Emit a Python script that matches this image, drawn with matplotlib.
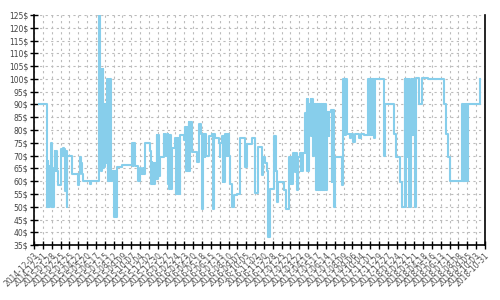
import numpy as np
import pandas as pd
import matplotlib
matplotlib.use('Agg')
import matplotlib.pyplot as plt

# Price history (step changes), days counted from the first tick date
start = '2014-12-03'
end = '2018-10-31'

days = [16, 40, 43, 45, 47, 49, 51, 53, 55, 58, 63, 66, 68, 70, 73, 76, 84, 87, 90, 92,
        96, 98, 101, 104, 106, 121, 139, 143, 147, 150, 153, 156, 178, 180,
        206, 210, 212, 214, 216, 218, 220, 222, 224, 226, 228, 230, 232, 234, 236, 238,
        240, 243, 248, 252, 256, 259, 262, 280, 306, 309, 312, 315, 319, 329, 337, 340,
        344, 349, 353,
        368, 371, 373, 375, 377, 380, 382, 385, 389, 391, 393, 396, 400, 411, 413, 415,
        417, 423, 425, 427, 429, 431, 433, 437, 448, 450, 453, 455, 458, 461, 463, 474,
        479, 481, 483, 486, 490, 492, 494, 500, 516, 521, 529, 532, 536, 541, 543, 545,
        553, 564, 566, 569, 574, 585, 588, 590, 595, 597, 599, 601, 606, 608, 610, 612,
        614, 616, 620, 627, 634, 643, 651, 669, 674, 691, 701, 708,
        721, 726, 731, 737, 742, 747, 760, 762, 764, 766, 768, 774, 791, 798, 808, 810,
        812, 814, 816, 818, 821, 826, 828, 832, 834, 837, 842, 844, 846, 848, 851, 858,
        860, 863, 865, 867, 869, 872, 876, 878, 880, 882, 885,
        890, 893, 896, 899, 902, 905, 908, 911, 914, 917, 920, 923,
        927, 929, 931, 933, 935, 939, 942, 945, 950, 954, 974, 979, 981, 983, 985, 987,
        990, 1000, 1003, 1009, 1016, 1030, 1034, 1045, 1058, 1060, 1062, 1064, 1066, 1068,
        1070, 1072, 1074, 1076,
        1079, 1107, 1110, 1112, 1140, 1147, 1160, 1166, 1174, 1176, 1178, 1180, 1182, 1184,
        1186, 1187, 1195, 1197, 1199, 1201, 1203, 1205, 1210, 1219, 1227, 1247, 1298, 1305,
        1311, 1316, 1356, 1358, 1360, 1362, 1364, 1366, 1368, 1370, 1374, 1411, 1413]

price = [90, 50, 68, 50, 66, 50, 65, 68, 75, 50, 65, 72, 64, 72, 64, 58.5, 70, 72.5, 70, 73,
         72.5, 56, 72, 50, 70, 63, 58.5, 63, 69.5, 67, 63, 60, 59, 60,
         125, 100, 64, 104, 66, 104, 65, 90, 66, 90, 67, 90, 100, 60, 100, 60,
         100, 60, 64, 46, 64, 46, 65.5, 66.5, 66.5, 75, 66, 75, 66, 60, 65, 63,
         65, 63, 75,
         72, 59, 67.5, 59, 67, 59, 67, 61, 78, 61, 78, 62, 69.5, 78.5, 70, 78.5,
         70, 78.5, 59, 78, 57, 78, 57, 73, 77, 55, 77, 55, 77, 55, 78, 76,
         81, 64, 81, 64, 83, 64, 83, 71.5, 67.5, 82.5, 78.5, 49, 78.5, 69.5, 78.5, 70,
         77.5, 78.5, 49, 78.5, 77, 75, 69.5, 75, 77.5, 59.5, 77.5, 59.5, 78.5, 70, 78.5, 70,
         78.5, 70, 59, 50, 54.5, 55, 77, 65.5, 74.5, 77, 55.5, 73.5,
         62.5, 69.5, 67, 64, 38, 57, 77.5, 64, 77.5, 64, 52, 59.5, 56.5, 49, 69.5, 59,
         69.5, 59, 69.5, 59, 71, 63.5, 71, 69.5, 56.5, 69.5, 71, 64, 71, 64, 71, 86.5,
         71, 92, 64, 92, 64, 90, 92, 77.5, 92, 70, 90,
         90, 56.5, 90, 56.5, 90, 56.5, 90, 56.5, 90, 56.5, 90, 56.5,
         87, 77.5, 87, 77.5, 87, 88, 59.5, 88, 50, 69.5, 58.5, 100, 78, 100, 78, 100,
         78.5, 77, 78.5, 75.5, 78.5, 77, 78.5, 78, 100, 78, 100, 78, 100, 78,
         100, 78, 100, 77,
         100, 70, 84.5, 90, 78.5, 69.5, 59.5, 50, 100, 50, 100, 69.5, 100, 69.5,
         100, 50, 100, 78, 100, 78, 100, 50, 100.5, 90, 100.5, 100, 90, 78.5,
         69.5, 60, 90, 60, 90, 60, 90, 60, 90, 60, 90, 100, 100]

dates = pd.Timestamp(start) + pd.to_timedelta(days, unit='D')

# x ticks every 28 days
ticks = pd.date_range(start, end, freq='28D')
tick_labels = [t.strftime('%Y-%m-%d') for t in ticks]
yticks = np.arange(35, 126, 5)

fig = plt.figure(figsize=(5, 3), dpi=100)
ax = fig.add_axes([0.068, 0.183, 0.902, 0.767])

ax.plot(dates, price, color='#87ceeb', linewidth=1.5, drawstyle='steps-post')

ax.set_xlim(pd.Timestamp(start), pd.Timestamp(end))
ax.set_ylim(35, 125)
ax.set_xticks(ticks)
ax.set_xticklabels(tick_labels, rotation=45, ha='right', rotation_mode='anchor',
                   fontsize=5.5, color='#555555')
ax.set_yticks(yticks)
ax.set_yticklabels([str(v) + '$' for v in yticks], fontsize=5.5, color='#444444')

ax.grid(True, color='#bbbbbb', linestyle=(0, (2, 3)), linewidth=0.8)
ax.set_axisbelow(True)
ax.tick_params(axis='both', direction='inout', length=6, width=1, color='black', pad=1)
ax.spines['top'].set_visible(False)
for s in ['left', 'bottom', 'right']:
    ax.spines[s].set_linewidth(1.2)

fig.savefig('out.png', dpi=100)
